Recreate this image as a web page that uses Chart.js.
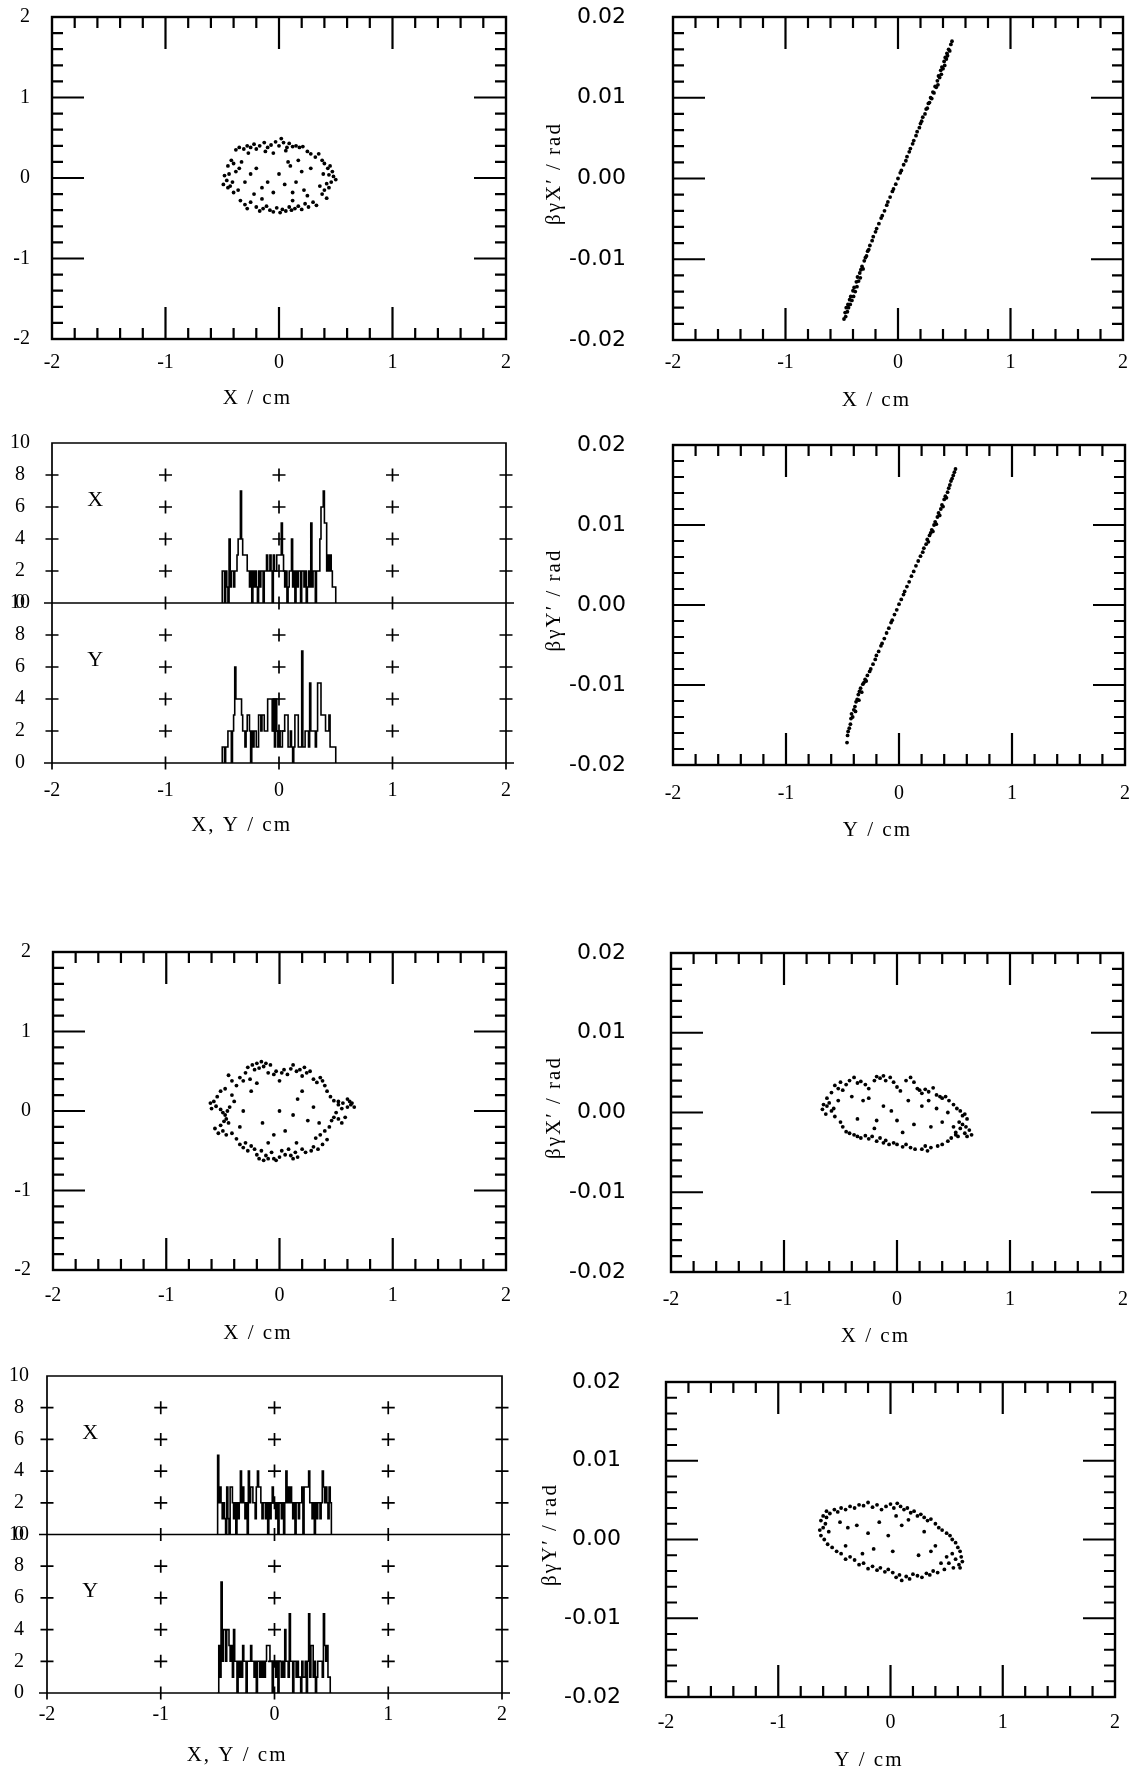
<!DOCTYPE html>
<html>
<head>
<meta charset="utf-8">
<title>Beam profiles and phase space</title>
<script src="https://cdn.jsdelivr.net/npm/chart.js@4.4.1/dist/chart.umd.min.js"></script>
<style>
  html, body { margin: 0; padding: 0; background: #fff; }
  body { position: relative; width: 1139px; height: 1771px; overflow: hidden; }
  canvas { position: absolute; }
</style>
</head>
<body>
<script>
// ---- values ----
const posTicks = [-2, -1, 0, 1, 2];               // cm
const angleTicks = [-0.02, -0.01, 0, 0.01, 0.02]; // rad
const countTicks = [0, 2, 4, 6, 8, 10];
const countMarks = [2, 4, 6, 8];

// histogram bins: 0.01 cm wide, starting at -0.50 cm
const binStart = -0.5, binWidth = 0.01;

// upper set (before)
const xyBefore = [
  [-0.38,0.35],[-0.35,0.38],[-0.31,0.36],[-0.28,0.40],[-0.25,0.38],[-0.22,0.42],[-0.2,0.36],[-0.17,0.40],[-0.13,0.44],[-0.1,0.38],
  [-0.07,0.41],[-0.03,0.45],[0.0,0.40],[0.02,0.49],[0.04,0.44],[0.07,0.38],[0.09,0.43],[0.12,0.39],[0.15,0.40],[0.18,0.38],
  [0.21,0.39],[0.25,0.33],[0.28,0.30],[0.32,0.26],[0.35,0.30],[0.38,0.22],[-0.27,0.31],[-0.12,0.33],[0.06,0.34],[-0.05,0.31],
  [-0.42,0.22],[-0.45,0.15],[-0.40,0.18],[-0.44,0.05],[-0.48,0.03],[-0.46,-0.03],[-0.49,-0.08],[-0.43,-0.10],[-0.45,-0.12],[-0.41,-0.05],
  [-0.38,0.08],[-0.35,0.12],[-0.36,-0.15],[-0.33,0.20],[-0.40,-0.18],
  [0.40,0.18],[0.43,0.12],[0.45,0.15],[0.47,0.08],[0.44,0.04],[0.48,0.02],[0.50,-0.02],[0.46,-0.05],[0.42,-0.07],[0.44,-0.12],
  [0.40,-0.15],[0.38,-0.20],[0.42,-0.25],[0.36,-0.10],[0.39,0.05],
  [-0.34,-0.28],[-0.30,-0.33],[-0.28,-0.38],[-0.25,-0.30],[-0.20,-0.36],[-0.17,-0.41],[-0.14,-0.38],[-0.11,-0.35],[-0.08,-0.40],[-0.05,-0.42],
  [-0.02,-0.37],[0.01,-0.43],[0.03,-0.39],[0.06,-0.41],[0.09,-0.36],[0.11,-0.40],[0.14,-0.38],[0.17,-0.35],[0.20,-0.39],[0.23,-0.32],
  [0.26,-0.36],[0.30,-0.30],[0.33,-0.34],[0.12,-0.28],[-0.15,-0.26],[0.25,-0.22],
  [-0.25,0.05],[-0.2,0.12],[-0.1,-0.05],[0.0,0.05],[0.05,-0.08],[0.1,0.15],[0.15,-0.05],[0.2,0.08],[0.22,-0.15],[-0.05,-0.18],
  [-0.15,-0.12],[0.08,0.2],[-0.3,-0.05],[0.28,0.12],[-0.22,-0.2],[0.12,-0.18],[0.17,0.22]
];

const xPhaseBefore = [
  [-0.48,-0.0174],[-0.47,-0.0166],[-0.465,-0.0171],[-0.46,-0.0160],[-0.45,-0.0165],[-0.445,-0.0156],[-0.44,-0.0160],[-0.43,-0.0150],
  [-0.425,-0.0156],[-0.42,-0.0146],[-0.41,-0.0151],[-0.40,-0.0139],[-0.395,-0.0146],[-0.39,-0.0135],[-0.38,-0.0140],[-0.37,-0.0128],
  [-0.365,-0.0134],[-0.36,-0.0122],[-0.35,-0.0127],[-0.34,-0.0117],[-0.335,-0.0123],[-0.33,-0.0113],[-0.32,-0.0109],[-0.31,-0.0112],
  [-0.30,-0.0102],[-0.29,-0.0098],[-0.28,-0.0096],[-0.27,-0.0090],[-0.26,-0.0088],[-0.25,-0.0083],[-0.23,-0.0077],[-0.22,-0.0072],
  [-0.20,-0.0066],[-0.19,-0.0062],[-0.17,-0.0056],[-0.15,-0.0049],[-0.14,-0.0046],[-0.12,-0.0040],[-0.10,-0.0033],[-0.09,-0.0029],
  [-0.07,-0.0023],[-0.05,-0.0016],[-0.04,-0.0013],[-0.02,-0.0007],[0.00,0.0000],[0.02,0.0007],[0.03,0.0010],[0.05,0.0017],
  [0.07,0.0022],[0.08,0.0027],[0.10,0.0033],[0.11,0.0037],[0.13,0.0043],[0.14,0.0047],[0.16,0.0053],[0.17,0.0058],
  [0.19,0.0063],[0.20,0.0068],[0.21,0.0071],[0.22,0.0076],[0.24,0.0080],[0.25,0.0086],[0.26,0.0087],[0.27,0.0093],
  [0.28,0.0094],[0.29,0.0100],[0.30,0.0099],[0.31,0.0107],[0.32,0.0106],[0.33,0.0114],[0.34,0.0113],[0.35,0.0121],
  [0.355,0.0116],[0.36,0.0127],[0.37,0.0125],[0.38,0.0134],[0.385,0.0129],[0.39,0.0138],[0.40,0.0136],[0.41,0.0145],
  [0.415,0.0140],[0.42,0.0150],[0.43,0.0148],[0.435,0.0155],[0.44,0.0152],[0.45,0.0160],[0.46,0.0158],[0.47,0.0166],[0.48,0.0170]
];

const histXBefore = [
  2,2,0,2,1,0,4,1,2,2,  1,2,2,3,4,4,7,4,3,3,  3,3,2,2,1,2,0,2,1,2,  1,0,2,1,2,2,0,2,2,3,
  2,2,3,2,0,3,2,2,3,3,  3,3,5,3,2,1,2,0,1,2,  2,4,1,2,0,2,1,2,2,0,  2,2,1,2,0,1,2,1,5,1,
  2,2,0,2,2,2,4,6,6,7,  5,5,2,3,2,3,2,1,1,1
];
const histYBefore = [
  1,1,0,1,1,2,2,2,0,2,  3,6,4,4,4,4,4,3,2,2,  1,2,3,3,2,0,2,1,2,2,  1,1,3,3,2,3,3,2,2,2,
  4,4,4,4,2,4,1,4,2,1,  2,1,1,2,2,3,3,3,1,1,  2,1,0,1,3,3,3,1,1,1,  7,1,1,2,2,2,1,5,2,2,
  2,2,1,2,5,5,5,3,3,3,  3,2,2,2,3,1,1,1,1,1
];

const yPhaseBefore = [
  [-0.46,-0.0172],[-0.455,-0.0163],[-0.45,-0.0158],[-0.44,-0.0154],[-0.43,-0.0149],[-0.425,-0.0142],[-0.42,-0.0136],[-0.41,-0.0140],
  [-0.40,-0.0131],[-0.39,-0.0127],[-0.385,-0.0133],[-0.38,-0.0121],[-0.37,-0.0118],[-0.36,-0.0112],[-0.355,-0.0119],[-0.35,-0.0108],
  [-0.34,-0.0104],[-0.33,-0.0109],[-0.32,-0.0099],[-0.31,-0.0097],[-0.30,-0.0093],[-0.29,-0.0095],[-0.28,-0.0088],[-0.26,-0.0083],
  [-0.25,-0.0080],[-0.23,-0.0074],[-0.21,-0.0068],[-0.20,-0.0063],[-0.18,-0.0058],[-0.16,-0.0051],[-0.15,-0.0048],[-0.13,-0.0042],
  [-0.11,-0.0035],[-0.09,-0.0029],[-0.07,-0.0022],[-0.06,-0.0019],[-0.04,-0.0012],[-0.02,-0.0006],[0.00,0.0001],[0.02,0.0007],
  [0.04,0.0013],[0.05,0.0017],[0.07,0.0023],[0.09,0.0029],[0.11,0.0036],[0.13,0.0042],[0.15,0.0049],[0.17,0.0055],
  [0.19,0.0061],[0.21,0.0066],[0.22,0.0071],[0.24,0.0076],[0.25,0.0082],[0.26,0.0079],[0.27,0.0087],[0.28,0.0090],
  [0.29,0.0094],[0.30,0.0092],[0.31,0.0100],[0.32,0.0104],[0.33,0.0101],[0.34,0.0110],[0.35,0.0115],[0.36,0.0112],
  [0.37,0.0120],[0.38,0.0125],[0.39,0.0123],[0.40,0.0132],[0.41,0.0136],[0.42,0.0134],[0.43,0.0141],[0.44,0.0146],
  [0.45,0.0150],[0.46,0.0155],[0.47,0.0158],[0.48,0.0162],[0.49,0.0166],[0.50,0.0170]
];

// lower set (after)
const xyAfter = [
  [-0.45,0.45],[-0.42,0.38],[-0.38,0.32],[-0.35,0.42],[-0.32,0.38],[-0.30,0.48],[-0.28,0.55],[-0.26,0.40],[-0.24,0.58],[-0.22,0.52],
  [-0.20,0.60],[-0.18,0.54],[-0.16,0.62],[-0.14,0.56],[-0.12,0.60],[-0.10,0.48],[-0.08,0.58],[-0.05,0.46],[-0.03,0.50],[0.0,0.38],
  [0.02,0.48],[0.04,0.52],[0.07,0.46],[0.10,0.53],[0.12,0.58],[0.15,0.50],[0.18,0.52],[0.20,0.44],[0.22,0.55],[0.24,0.48],
  [0.27,0.50],[0.30,0.40],[0.33,0.36],[0.36,0.42],[0.38,0.38],[0.40,0.32],
  [-0.52,0.25],[-0.55,0.18],[-0.58,0.12],[-0.61,0.10],[-0.60,0.03],[-0.56,0.06],[-0.52,0.02],[-0.50,-0.02],[-0.48,-0.05],[-0.46,0.00],
  [-0.44,0.05],[-0.47,-0.10],[-0.45,-0.15],[-0.49,-0.13],[-0.52,-0.18],[-0.57,-0.22],[-0.54,-0.28],[-0.50,-0.25],[-0.47,-0.30],[-0.42,-0.28],
  [-0.40,0.12],[-0.42,0.20],[-0.48,0.28],
  [0.42,0.25],[0.45,0.18],[0.48,0.13],[0.52,0.12],[0.56,0.10],[0.60,0.15],[0.62,0.12],[0.64,0.10],[0.66,0.05],[0.63,0.08],
  [0.60,0.05],[0.55,0.03],[0.52,0.08],[0.50,-0.02],[0.48,-0.08],[0.52,-0.10],[0.55,-0.15],[0.58,-0.08],[0.46,-0.12],[0.44,-0.20],
  [0.40,-0.25],[0.36,-0.30],[0.32,-0.34],[0.38,-0.42],[0.42,-0.36],[0.30,-0.45],[0.28,-0.50],[0.34,-0.48],
  [-0.38,-0.35],[-0.35,-0.42],[-0.32,-0.46],[-0.30,-0.40],[-0.28,-0.50],[-0.25,-0.44],[-0.22,-0.48],[-0.20,-0.55],[-0.18,-0.60],[-0.16,-0.50],
  [-0.14,-0.62],[-0.12,-0.56],[-0.10,-0.60],[-0.07,-0.52],[-0.05,-0.60],[-0.03,-0.62],[0.0,-0.58],[0.02,-0.50],[0.05,-0.55],[0.08,-0.48],
  [0.10,-0.56],[0.12,-0.60],[0.14,-0.52],[0.16,-0.58],[0.20,-0.48],[0.23,-0.52],[-0.10,-0.40],[0.15,-0.40],
  [-0.32,0.00],[-0.25,0.25],[-0.15,-0.15],[0.0,0.0],[0.12,-0.05],[0.16,0.15],[0.25,-0.12],[0.20,0.25],[-0.20,0.35],[0.05,-0.25],
  [-0.05,-0.30],[0.30,0.05],[0.35,-0.15],[-0.35,-0.20]
];

const xPhaseAfter = [
  [-0.62,0.0018],[-0.58,0.0025],[-0.55,0.0034],[-0.52,0.0030],[-0.50,0.0038],[-0.48,0.0028],[-0.45,0.0035],[-0.42,0.0040],[-0.38,0.0044],
  [-0.35,0.0037],[-0.32,0.0039],[-0.28,0.0035],[-0.25,0.0030],[-0.20,0.0040],[-0.18,0.0045],[-0.15,0.0043],[-0.12,0.0046],[-0.10,0.0040],
  [-0.06,0.0044],[-0.03,0.0038],[0.0,0.0032],[0.03,0.0027],[0.08,0.0040],[0.12,0.0044],[0.15,0.0038],[0.18,0.0030],[0.20,0.0028],
  [0.22,0.0024],[0.25,0.0029],[0.28,0.0026],[0.32,0.0031],[0.35,0.0022],[0.38,0.0020],[0.40,0.0018],[0.43,0.0020],[0.46,0.0015],
  [0.50,0.0010],[0.53,0.0005],[0.56,0.0002],[0.58,-0.0004],[0.60,-0.0002],[0.62,-0.0008],[0.55,-0.0012],[0.58,-0.0015],[0.61,-0.0018],
  [0.64,-0.0022],[0.66,-0.0028],[0.60,-0.0026],[0.56,-0.0020],[0.52,-0.0025],[0.50,-0.0018],[0.54,-0.0030],[0.48,-0.0032],[0.45,-0.0036],
  [0.52,-0.0028],[0.62,-0.0030],
  [0.40,-0.0040],[0.36,-0.0042],[0.30,-0.0044],[0.27,-0.0048],[0.25,-0.0042],[0.22,-0.0046],[0.16,-0.0046],[0.12,-0.0044],[0.08,-0.0040],
  [0.05,-0.0043],[0.0,-0.0040],[-0.03,-0.0038],[-0.07,-0.0040],[-0.10,-0.0035],[-0.12,-0.0038],[-0.15,-0.0032],[-0.18,-0.0036],[-0.22,-0.0030],
  [-0.25,-0.0033],[-0.28,-0.0029],[-0.32,-0.0032],[-0.35,-0.0030],[-0.38,-0.0028],[-0.42,-0.0026],[-0.45,-0.0024],[-0.48,-0.0018],[-0.50,-0.0012],
  [-0.55,-0.0005],[-0.58,0.0002],[-0.62,0.0008],[-0.65,0.0010],[-0.60,0.0012],[-0.56,0.0005],[-0.66,0.0004],[-0.52,0.0015],[-0.63,-0.0002],
  [-0.40,0.0020],[-0.30,0.0015],[-0.25,0.0018],[-0.18,-0.0010],[-0.12,0.0008],[-0.05,0.0002],[0.0,-0.0010],[0.10,0.0015],[0.15,-0.0015],
  [0.22,0.0008],[0.30,-0.0018],[0.35,0.0005],[0.40,-0.0012],[-0.35,-0.0008],[0.05,-0.0025],[-0.2,-0.0020],[0.45,0.0000],[0.28,0.0015]
];

const histXAfter = [
  5,2,3,2,1,2,1,0,3,1,  0,3,3,2,1,2,0,2,1,2,  4,2,3,2,1,2,0,4,2,3,  3,2,2,1,3,4,3,3,2,1,
  2,2,1,2,0,2,1,2,3,2,  2,1,2,0,2,2,1,2,0,2,  4,2,3,2,3,2,1,2,0,2,  2,1,2,2,3,0,3,3,3,3,
  4,2,2,1,2,0,2,1,2,2,  1,2,4,3,2,3,2,1,3,2
];
const histYAfter = [
  0,3,1,7,2,4,4,2,4,4,  3,2,3,1,4,2,2,0,2,1,  2,1,3,2,2,0,2,2,2,3,  2,2,1,2,0,2,2,1,2,1,
  2,1,2,3,3,3,2,2,0,2,  2,1,2,0,2,2,1,2,1,4,  2,2,1,5,2,2,0,2,2,1,  2,1,1,0,2,1,1,2,0,2,
  5,1,3,3,1,2,0,1,2,2,  2,2,1,5,3,2,3,1,1,0
];

const yPhaseAfter = [
  [-0.60,0.0030],[-0.57,0.0036],[-0.54,0.0033],[-0.50,0.0038],[-0.47,0.0035],[-0.44,0.0040],[-0.40,0.0038],[-0.36,0.0042],[-0.32,0.0040],
  [-0.28,0.0044],[-0.24,0.0043],[-0.20,0.0047],[-0.16,0.0041],[-0.12,0.0044],[-0.08,0.0038],[-0.04,0.0042],[0.0,0.0045],[0.03,0.0040],
  [0.06,0.0046],[0.09,0.0042],[0.12,0.0038],[0.15,0.0040],[0.18,0.0034],[0.21,0.0036],[0.24,0.0030],[0.27,0.0032],[0.30,0.0028],
  [0.33,0.0024],[0.36,0.0026],[0.40,0.0020],[0.43,0.0015],
  [0.46,0.0012],[0.50,0.0008],[0.53,0.0005],[0.55,0.0000],[0.58,-0.0004],[0.60,-0.0010],[0.62,-0.0015],[0.63,-0.0022],[0.64,-0.0028],
  [0.61,-0.0032],[0.58,-0.0025],[0.55,-0.0018],[0.52,-0.0030],[0.50,-0.0022],[0.56,-0.0036],[0.48,-0.0038],[0.62,-0.0036],[0.45,-0.0030],
  [0.42,-0.0042],[0.38,-0.0040],[0.35,-0.0045],[0.32,-0.0043],[0.28,-0.0048],[0.24,-0.0046],[0.20,-0.0044],[0.17,-0.0050],[0.14,-0.0047],
  [0.10,-0.0052],[0.08,-0.0045],[0.05,-0.0048],[0.02,-0.0042],[-0.02,-0.0038],[-0.05,-0.0041],[-0.09,-0.0036],[-0.12,-0.0039],[-0.16,-0.0034],
  [-0.20,-0.0037],[-0.24,-0.0030],[-0.28,-0.0032],[-0.32,-0.0026],[-0.36,-0.0022],[-0.40,-0.0025],[-0.44,-0.0018],[-0.48,-0.0015],[-0.52,-0.0010],
  [-0.56,-0.0006],[-0.59,0.0000],[-0.62,0.0005],[-0.63,0.0012],[-0.60,0.0015],[-0.58,0.0020],[-0.62,0.0024],[-0.55,0.0010],[-0.57,0.0028],
  [-0.45,0.0022],[-0.38,0.0015],[-0.30,0.0018],[-0.20,0.0008],[-0.15,-0.0012],[-0.10,0.0022],[-0.02,0.0005],[0.02,-0.0015],[0.10,0.0018],
  [0.16,0.0025],[0.25,-0.0020],[0.30,0.0010],[0.36,-0.0015],[-0.25,-0.0018],[0.05,0.0030],[0.40,-0.0008],[-0.40,-0.0008]
];

// ---- drawing ----
const ink = '#000';
const serif = "'Liberation Serif', 'DejaVu Serif', serif";
const sans = "'DejaVu Sans', 'Liberation Sans', sans-serif";
const padTop = 64, padRight = 24;

function boxFrame(ctx, a, x, y) {
  ctx.lineWidth = 2.4;
  ctx.strokeRect(a.left, a.top, a.right - a.left, a.bottom - a.top);
  ctx.lineWidth = 2.2;
  ctx.beginPath();
  for (let k = 1; k < 20; k++) {
    const len = k % 5 === 0 ? 32 : 11;
    const px = x.getPixelForValue(x.min + (x.max - x.min) * k / 20);
    ctx.moveTo(px, a.top); ctx.lineTo(px, a.top + len);
    ctx.moveTo(px, a.bottom); ctx.lineTo(px, a.bottom - len);
    const py = y.getPixelForValue(y.min + (y.max - y.min) * k / 20);
    ctx.moveTo(a.left, py); ctx.lineTo(a.left + len, py);
    ctx.moveTo(a.right, py); ctx.lineTo(a.right - len, py);
  }
  ctx.stroke();
}

function histFrame(ctx, a, x, halves) {
  const arm = 6.5;
  ctx.lineWidth = 1.7;
  ctx.beginPath();
  ctx.moveTo(a.left, a.bottom); ctx.lineTo(a.left, a.top);
  ctx.lineTo(a.right, a.top); ctx.lineTo(a.right, a.bottom);
  halves.forEach(s => {
    const y0 = s.getPixelForValue(0);
    ctx.moveTo(a.left - 8, y0); ctx.lineTo(a.right + 8, y0);
    posTicks.forEach(v => {
      const px = x.getPixelForValue(v);
      ctx.moveTo(px, y0 - arm); ctx.lineTo(px, y0 + arm);
      countMarks.forEach(h => {
        const py = s.getPixelForValue(h);
        ctx.moveTo(px - arm, py); ctx.lineTo(px + arm, py);
        ctx.moveTo(px, py - arm); ctx.lineTo(px, py + arm);
      });
    });
  });
  ctx.stroke();
  ctx.font = '22px ' + serif;
  ctx.textAlign = 'center';
  ctx.textBaseline = 'middle';
  ctx.fillText('X', x.getPixelForValue(-1.62), halves[0].getPixelForValue(6.4));
  ctx.fillText('Y', x.getPixelForValue(-1.62), halves[1].getPixelForValue(6.4));
}

const paper = {
  id: 'paper',
  afterDraw(chart, args, o) {
    const {ctx, chartArea: a, scales} = chart;
    const x = scales.x;
    ctx.save();
    ctx.strokeStyle = ink;
    ctx.fillStyle = ink;
    if (o.hist) histFrame(ctx, a, x, [scales.yTop, scales.yBot]);
    else boxFrame(ctx, a, x, scales.y);
    ctx.font = '21px ' + serif;
    ctx.letterSpacing = '2px';
    ctx.textBaseline = 'middle';
    ctx.textAlign = 'right';
    ctx.fillText(o.xTitle, x.getPixelForValue(0) + 13, a.bottom + o.xTitleGap);
    if (o.yTitle) {
      ctx.translate(a.left - o.yTitleGap, (a.top + a.bottom) / 2 - 5);
      ctx.rotate(-Math.PI / 2);
      ctx.textAlign = 'center';
      ctx.fillText(o.yTitle, 0, 0);
    }
    ctx.restore();
  }
};

function histPoints(counts) {
  const pts = [{x: binStart, y: 0}];
  counts.forEach((c, i) => pts.push({x: binStart + i * binWidth, y: c}));
  pts.push({x: binStart + counts.length * binWidth, y: 0});
  return pts;
}

const panels = [
  {pts: xyBefore, box: [52, 17, 506, 339], left: 0, y: 'pos', xPad: 12, yPad: 22, xTitle: 'X / cm', titleY: 398},
  {pts: xPhaseBefore, box: [673, 17, 1123, 340], left: 535, y: 'ang', xPad: 11, yPad: 47, xTitle: 'X / cm', titleY: 400, yTitle: 'βγX′ / rad', yTitleX: 554},
  {hist: [histXBefore, histYBefore], box: [52, 443, 506, 763], left: 0, xPad: 16, yPad: 22, xTitle: 'X, Y / cm', titleY: 825},
  {pts: yPhaseBefore, box: [673, 445, 1125, 765], left: 535, y: 'ang', xPad: 17, yPad: 47, xTitle: 'Y / cm', titleY: 830, yTitle: 'βγY′ / rad', yTitleX: 554},
  {pts: xyAfter, box: [53, 952, 506, 1270], left: 0, y: 'pos', xPad: 14, yPad: 22, xTitle: 'X / cm', titleY: 1333},
  {pts: xPhaseAfter, box: [671, 953, 1123, 1272], left: 535, y: 'ang', xPad: 16, yPad: 45, xTitle: 'X / cm', titleY: 1336, yTitle: 'βγX′ / rad', yTitleX: 554},
  {hist: [histXAfter, histYAfter], box: [47, 1376, 502, 1693], left: 0, xPad: 10, yPad: 18, xTitle: 'X, Y / cm', titleY: 1755},
  {pts: yPhaseAfter, box: [666, 1382, 1115, 1697], left: 535, y: 'ang', xPad: 14, yPad: 45, xTitle: 'Y / cm', titleY: 1760, yTitle: 'βγY′ / rad', yTitleX: 550}
];

const noGrid = {display: false, drawTicks: false};
const tickFont = {family: serif, size: 20};

panels.forEach(p => {
  const [l, t, r, b] = p.box;
  const top = t - padTop, bottom = p.titleY + 16;
  const canvas = document.createElement('canvas');
  canvas.width = r + padRight - p.left;
  canvas.height = bottom - top;
  canvas.style.left = p.left + 'px';
  canvas.style.top = top + 'px';
  document.body.appendChild(canvas);

  const scales = {
    x: {
      type: 'linear', min: -2, max: 2,
      afterBuildTicks: s => { s.ticks = posTicks.map(v => ({value: v})); },
      ticks: {padding: p.xPad, color: ink, font: tickFont, autoSkip: false, maxRotation: 0},
      grid: noGrid, border: {display: false},
      afterFit: s => { s.height = bottom - b; }
    }
  };
  let datasets;
  if (p.hist) {
    const half = {
      type: 'linear', position: 'left', min: 0, max: 10, stack: 'counts', stackWeight: 1,
      afterBuildTicks: s => { s.ticks = countTicks.map(v => ({value: v})); },
      ticks: {padding: p.yPad, crossAlign: 'center', color: ink, font: tickFont, autoSkip: false},
      grid: noGrid, border: {display: false},
      afterFit: s => { s.width = l - p.left; }
    };
    scales.yBot = {...half};
    scales.yTop = {...half};
    datasets = p.hist.map((h, i) => ({
      type: 'line', data: histPoints(h), yAxisID: i === 0 ? 'yTop' : 'yBot',
      stepped: true, borderColor: ink, borderWidth: 1.6, pointRadius: 0, fill: false
    }));
  } else {
    const ang = p.y === 'ang';
    scales.y = {
      type: 'linear', min: ang ? -0.02 : -2, max: ang ? 0.02 : 2,
      afterBuildTicks: s => { s.ticks = (ang ? angleTicks : posTicks).map(v => ({value: v})); },
      ticks: {
        padding: p.yPad, color: ink, autoSkip: false,
        font: ang ? {family: sans, size: 22} : tickFont,
        callback: v => ang ? v.toFixed(2) : String(v)
      },
      grid: noGrid, border: {display: false},
      afterFit: s => { s.width = l - p.left; }
    };
    datasets = [{
      data: p.pts.map(([x, y]) => ({x, y})),
      pointRadius: 1.9, pointBackgroundColor: ink, pointBorderWidth: 0, showLine: false
    }];
  }

  new Chart(canvas, {
    type: p.hist ? 'line' : 'scatter',
    data: {datasets},
    options: {
      responsive: false, animation: false, devicePixelRatio: 1, events: [],
      layout: {padding: {top: padTop, right: padRight, left: 0, bottom: 0}},
      plugins: {
        legend: {display: false}, tooltip: {enabled: false},
        paper: {
          hist: !!p.hist, xTitle: p.xTitle, xTitleGap: p.titleY - b,
          yTitle: p.yTitle, yTitleGap: p.yTitle ? l - p.yTitleX : 0
        }
      },
      scales
    },
    plugins: [paper]
  });
});
</script>
</body>
</html>
